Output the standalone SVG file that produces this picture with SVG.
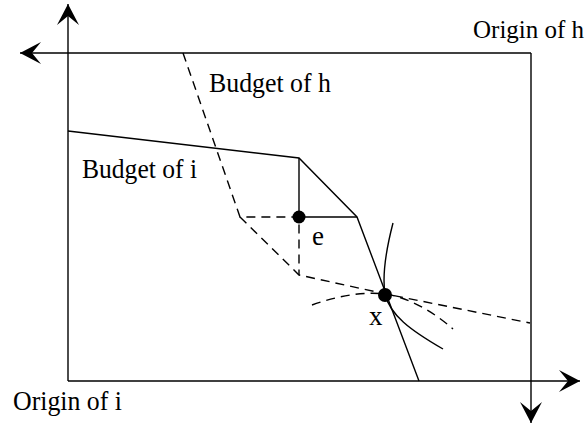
<svg xmlns="http://www.w3.org/2000/svg" width="588" height="427" viewBox="0 0 588 427">
<style>
.ln{fill:none;stroke:#000;stroke-width:1.4}
.ds{fill:none;stroke:#000;stroke-width:1.4;stroke-dasharray:9,6}
.ax{fill:none;stroke:#000;stroke-width:1.4;marker-end:url(#ah)}
.t{font-family:"Liberation Serif","Times New Roman",serif;font-size:27px;fill:#000}
.dot{fill:#000}
</style>
<defs>
<marker id="ah" viewBox="-2 -12 24 24" markerWidth="24" markerHeight="24" refX="20" refY="0" orient="auto" markerUnits="userSpaceOnUse">
<path d="M20,0 L-1,-11 L8,0 L-1,11 Z" fill="#000"/>
</marker>
</defs>
<g id="axes">
<line class="ax" x1="68" y1="381" x2="68" y2="4"/>
<line class="ax" x1="531" y1="53" x2="20" y2="53"/>
<line class="ax" x1="68" y1="381" x2="580" y2="381"/>
<line class="ax" x1="531" y1="53" x2="531" y2="423"/>
</g>
<g id="connectors">
<polyline class="ln" points="68,131 299,158 357,217 419,381"/>
<polyline class="ln" points="299,158 299,217 357,217"/>
<polyline class="ds" points="183,53 240,217 299,217 299,275"/>
<polyline class="ds" points="240,217 299,275 386,294 530,323"/>
<path class="ln" d="M393,223 C386,250 382,275 385,294 C390,315 410,330 443,349"/>
<path class="ds" d="M312,305 C335,297 360,291 386,294 C410,298 435,313 453,329"/>
</g>
<g id="node-e"><circle class="dot" cx="299" cy="217" r="6.5"/><text class="t" x="312" y="245">e</text></g>
<g id="node-x"><circle class="dot" cx="385" cy="295" r="7"/><text class="t" x="369" y="325">x</text></g>
<g id="labels">
<text class="t" x="473" y="38" style="font-size:25px">Origin of h</text>
<text class="t" x="209" y="92" textLength="122" lengthAdjust="spacingAndGlyphs">Budget of h</text>
<text class="t" x="82" y="178" textLength="115" lengthAdjust="spacingAndGlyphs">Budget of i</text>
<text class="t" x="13" y="410" textLength="109" lengthAdjust="spacingAndGlyphs">Origin of i</text>
</g>
</svg>
